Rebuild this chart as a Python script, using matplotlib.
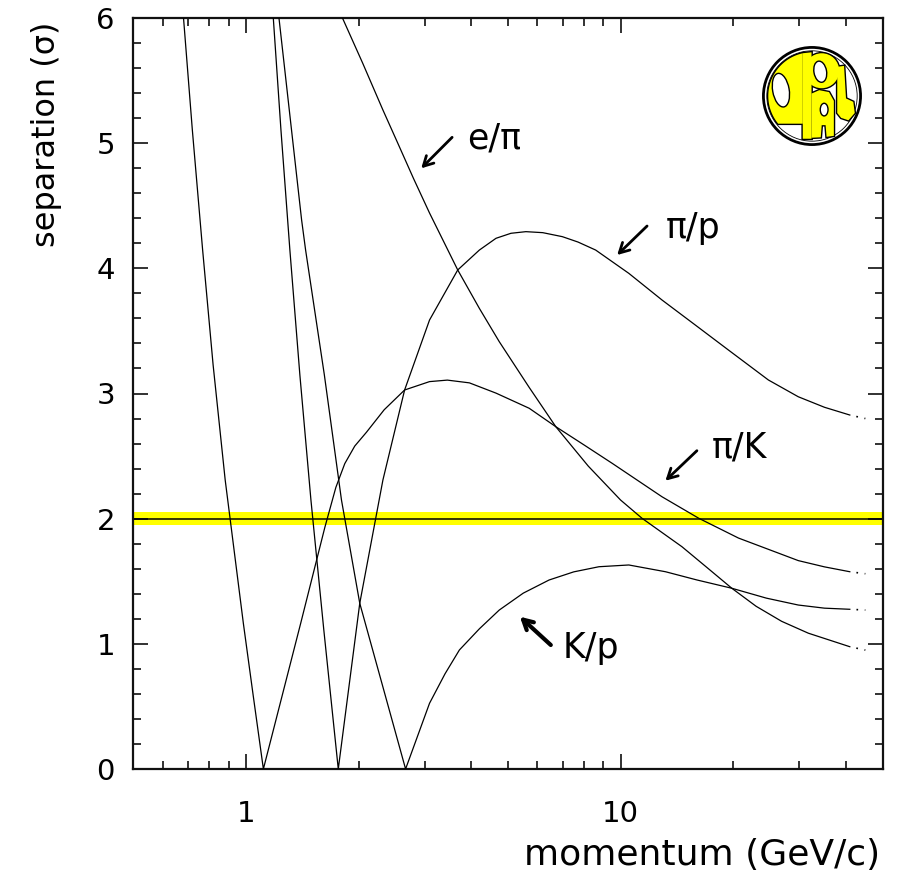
import matplotlib
matplotlib.use("Agg")
import matplotlib.pyplot as plt
from matplotlib.patches import Circle, Ellipse, Polygon
import numpy as np

# ---------------- data (momentum in GeV/c, separation in sigma) ----------------
pik_x = [0.682, 0.720, 0.767, 0.818, 0.881, 0.985, 1.046, 1.114, 1.401, 1.625, 1.739, 1.837, 1.953, 2.098,
         2.340, 2.653, 3.092, 3.45, 3.95, 4.652, 5.704, 6.716, 7.99, 9.50, 12.90, 16.15, 20.64, 24.30, 29.8,
         35.0, 40.9]
pik_y = [6.0, 5.105, 4.146, 3.228, 2.309, 1.164, 0.591, 0.0, 1.164, 1.930, 2.250, 2.440, 2.580, 2.690,
         2.870, 3.028, 3.095, 3.107, 3.085, 3.003, 2.882, 2.735, 2.589, 2.442, 2.175, 2.004, 1.845, 1.765, 1.665,
         1.615, 1.576]

pip_x = [1.184, 1.241, 1.311, 1.394, 1.492, 1.615, 1.765, 2.014, 2.322, 2.653, 3.092, 3.677, 4.200, 4.652,
         5.100, 5.589, 6.200, 6.993, 7.700, 8.582, 10.52, 12.90, 15.83, 19.41, 24.80, 29.80, 35.0, 40.9]
pip_y = [6.0, 5.105, 4.146, 3.148, 2.149, 1.110, 0.0, 1.324, 2.309, 3.028, 3.587, 3.987, 4.146, 4.240,
         4.280, 4.293, 4.285, 4.253, 4.210, 4.146, 3.960, 3.747, 3.547, 3.347, 3.108, 2.974, 2.890, 2.828]

kp_x = [1.226, 1.409, 1.444, 1.620, 1.800, 2.014, 2.300, 2.669, 3.092, 3.400, 3.715, 4.200, 4.746, 5.500,
        6.446, 7.500, 8.756, 10.52, 13.18, 16.00, 19.81, 24.50, 29.80, 35.0, 40.9]
kp_y = [6.0, 4.386, 4.146, 3.150, 2.149, 1.324, 0.700, 0.0, 0.525, 0.760, 0.951, 1.120, 1.270, 1.405,
        1.510, 1.575, 1.616, 1.630, 1.576, 1.510, 1.444, 1.365, 1.310, 1.285, 1.276]

epi_x = [1.811, 2.050, 2.322, 2.544, 2.800, 3.092, 3.677, 4.200, 4.746, 5.700, 6.716, 8.200, 10.0, 11.41,
         14.58, 17.0, 19.81, 23.0, 26.9, 31.7, 40.9]
epi_y = [6.0, 5.640, 5.265, 5.0, 4.720, 4.442, 3.987, 3.680, 3.414, 3.050, 2.735, 2.420, 2.149, 2.003,
         1.776, 1.610, 1.444, 1.300, 1.180, 1.085, 0.977]

# dotted continuation of each curve
tail_x = [40.9, 45.0]
pik_tail = [1.576, 1.56]
pip_tail = [2.828, 2.80]
kp_tail = [1.276, 1.27]
epi_tail = [0.977, 0.95]

band_level = 2.0
band_half = 0.05

x_major = [1, 10]
x_major_labels = ["1", "10"]
x_minor = [0.6, 0.7, 0.8, 0.9, 2, 3, 4, 5, 6, 7, 8, 9, 20, 30, 40]
y_major = [0, 1, 2, 3, 4, 5, 6]
y_minor = [v / 5 for v in range(0, 31)]

labels = ["e/π", "π/p", "π/K", "K/p"]
# ---------------------------------------------------------------------------

plt.rcParams['font.family'] = ['DejaVu Sans']
W, H = 901, 894
fig = plt.figure(figsize=(W / 100, H / 100), dpi=100)
ax = fig.add_axes([133 / W, 1 - 769 / H, (882.5 - 133) / W, (769 - 18) / H])
ax.set_xscale('log')
ax.set_xlim(0.5, 50)
ax.set_ylim(0, 6)

ax.axhspan(band_level - band_half, band_level + band_half, color='#ffff00', zorder=1, lw=0)
ax.axhline(band_level, color='black', lw=1.1, zorder=2)

lw = 0.9
for xs, ys, ty in [(pik_x, pik_y, pik_tail), (pip_x, pip_y, pip_tail),
                   (kp_x, kp_y, kp_tail), (epi_x, epi_y, epi_tail)]:
    ax.plot(xs, ys, color='black', lw=lw, zorder=3, solid_joinstyle='round')
    ax.plot(tail_x, ty, color='black', lw=1.2, ls=(1, (1, 4)), zorder=3)

ax.set_xticks(x_major)
ax.set_xticklabels(x_major_labels)
ax.set_xticks(x_minor, minor=True)
ax.set_xticklabels([], minor=True)
ax.set_yticks(y_major)
ax.set_yticks(y_minor, minor=True)
ax.tick_params(which='both', direction='in', top=True, right=True, width=1.3, color='#222222')
ax.tick_params(which='major', length=11)
ax.tick_params(which='minor', length=6)
ax.tick_params(axis='x', which='major', labelsize=21, pad=22)
ax.tick_params(axis='y', which='major', labelsize=21, pad=13)
for s in ax.spines.values():
    s.set_linewidth(1.6)
    s.set_color('#111111')

fig.text(880 / W, 1 - 855 / H, "momentum (GeV/c)", ha='right', va='center', fontsize=26)
fig.text(47 / W, 1 - 22 / H, "separation (σ)", ha='center', va='top', rotation=90, fontsize=23)

# annotations (positions in data coords)
def px2data(px, py):
    lx = (px - 245.7) / 376.0
    return 10 ** lx, (769 - py) / 125.17

arrows = [((452.7, 137.3), (421.7, 168.3), (495, 138), labels[0]),
          ((648.3, 226.0), (618.3, 255.0), (695, 228), labels[1]),
          ((698.3, 450.7), (666.7, 480.7), (741, 447), labels[2]),
          ((551.7, 645.0), (520.7, 616.7), (592, 648), labels[3])]
for (sx, sy), (ex, ey), (tx, ty), lab in arrows:
    ax.annotate("", xy=px2data(ex, ey), xytext=px2data(sx, sy),
                arrowprops=dict(arrowstyle='->,head_length=0.7,head_width=0.38',
                                lw=2.0 if lab != "K/p" else 3.0, color='black',
                                shrinkA=0, shrinkB=0), zorder=4)
    ax.text(*px2data(tx, ty), lab, fontsize=25, ha='center', va='center', zorder=4)

# ---- OPAL logo ----
lax = fig.add_axes([761 / W, 1 - 147 / H, 102 / W, 102 / H])
lax.set_xlim(-1.05, 1.05)
lax.set_ylim(-1.05, 1.05)
lax.set_aspect('equal')
lax.axis('off')
lax.add_patch(Circle((0, 0), 1.0, fc='white', ec='black', lw=2.0))
lax.add_patch(Circle((0, 0), 0.93, fc='white', ec='black', lw=0.6))

R = 0.90
th = np.linspace(np.arccos(-0.19 / R), np.pi + np.arcsin(0.57 / R), 40)
o_pts = [(R * np.cos(t), R * np.sin(t)) for t in th] + [(-0.19, -0.57)]
p_bar = [(-0.19, 0.88), (-0.01, 0.9), (-0.01, -0.88), (-0.19, -0.88)]
a_pts = [(-0.01, 0.05), (0.15, 0.12), (0.35, 0.08), (0.45, -0.1), (0.45, -0.82),
         (0.3, -0.84), (0.28, -0.6), (0.2, -0.6), (0.18, -0.85), (-0.01, -0.86)]
l_pts = [(0.52, 0.6), (0.66, 0.62), (0.7, -0.05), (0.85, -0.12), (0.88, -0.35),
         (0.75, -0.5), (0.6, -0.45), (0.52, -0.35)]

def shapes():
    return [Polygon(o_pts, closed=True), Polygon(p_bar, closed=True),
            Ellipse((0.2, 0.52), 0.72, 0.72), Polygon(a_pts, closed=True),
            Polygon(l_pts, closed=True)]

for sh in shapes():
    sh.set_facecolor('black'); sh.set_edgecolor('black'); sh.set_linewidth(2.0)
    lax.add_patch(sh)
for sh in shapes():
    sh.set_facecolor('#ffff00'); sh.set_edgecolor('none')
    lax.add_patch(sh)
for (cx, cy, w, h, ang) in [(-0.64, 0.12, 0.34, 0.7, 10), (0.17, 0.5, 0.26, 0.44, 10),
                            (0.25, -0.28, 0.16, 0.26, 0)]:
    lax.add_patch(Ellipse((cx, cy), w, h, angle=ang, fc='white', ec='black', lw=1.0))

fig.savefig("out.png", dpi=100)
